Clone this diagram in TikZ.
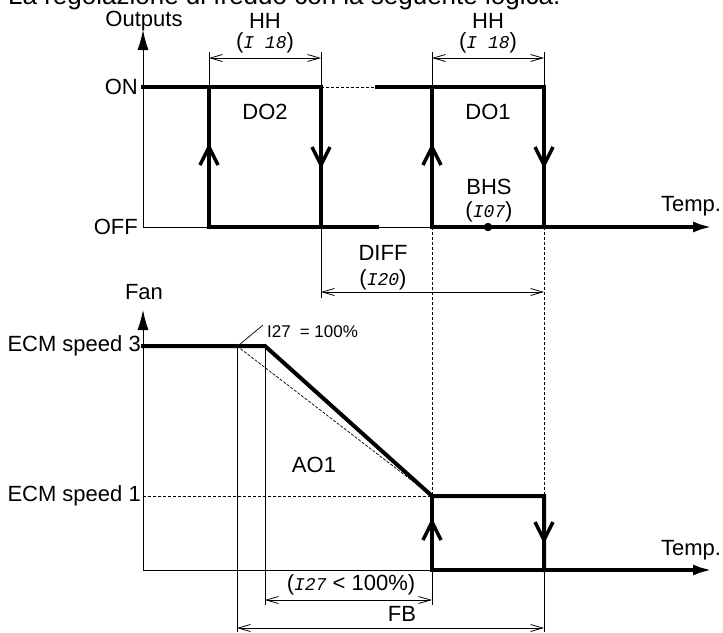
\documentclass[tikz,border=0pt]{standalone}
\usepackage{fontspec}
\setmainfont{Liberation Sans}
\newfontfamily\segfont{Liberation Mono}[ItalicFont={Liberation Mono Italic}]
\usetikzlibrary{arrows.meta}
\newcommand{\seg}[1]{{\segfont\itshape\fontsize{18}{20}\selectfont #1}}
\begin{document}
\begin{tikzpicture}[x=1pt,y=-1pt,
  lbl/.style={inner sep=0pt,font=\fontsize{22}{25}\selectfont},
  small/.style={inner sep=0pt,font=\fontsize{17}{20}\selectfont},
  thinline/.style={line width=0.9pt},
  thickline/.style={line width=4pt,line join=miter,line cap=rect},
  axisarrow/.style={-{Latex[length=20pt,width=11pt]}},
  dimline/.style={line width=0.8pt,{Straight Barb[length=12pt,width=7pt]}-{Straight Barb[length=12pt,width=7pt]}},
  dashline/.style={line width=0.8pt,dash pattern=on 3pt off 2pt},
  barb/.style={line width=3.5pt,line join=miter}]
\useasboundingbox (0,0) rectangle (723,632);
% header (cut at top)
\node[inner sep=0pt,font=\fontsize{26}{28}\selectfont,anchor=base west] (hdr) at (8,4) {La regolazione di freddo con la seguente logica.};
% ---------- top chart ----------
\coordinate (o1) at (143,227);
\coordinate (yt) at (143,30);
\coordinate (xt) at (713,227);
\draw[thinline,axisarrow] (o1) -- (yt);
\node[lbl] (outputs) at (144,21) {Outputs};
\node[lbl,anchor=east] (on) at (138,87) {ON};
\node[lbl,anchor=east] (off) at (138,227) {OFF};
\draw[thinline] (o1) -- (432,227);
% extension lines
\foreach \xx in {209,321,432,544} \draw[thinline] (\xx,52) -- (\xx,87);
\draw[dimline] (209,58) -- (321,58);
\draw[dimline] (432,58) -- (544,58);
\node[lbl] (hh1) at (265,21) {HH};
\node[lbl] (hh1p) at (265,43) {(\seg{I 18})};
\node[lbl] (hh2) at (488,21) {HH};
\node[lbl] (hh2p) at (488,43) {(\seg{I 18})};
% thick curves
\draw[thickline] (143,87) -- (321,87) -- (321,227);
\draw[thickline] (209,87) -- (209,227) -- (377,227);
\draw[thickline] (377,87) -- (544,87) -- (544,227);
\draw[thickline] (432,87) -- (432,227);
\draw[line width=4pt,axisarrow] (432,227) -- (xt);
\draw[dashline] (321,87) -- (377,87);
% arrowheads on verticals
\draw[barb] (200,165) -- (209,147) -- (218,165);
\draw[barb] (423,165) -- (432,147) -- (441,165);
\draw[barb] (312,147) -- (321,165) -- (330,147);
\draw[barb] (535,147) -- (544,165) -- (553,147);
\node[lbl] (do2) at (265,112) {DO2};
\node[lbl] (do1) at (488,112) {DO1};
\node[lbl] (bhs) at (489,187) {BHS};
\node[lbl] (bhsp) at (489,212) {(\seg{I07})};
\fill (488,227) circle (4.2pt);
\node[lbl,anchor=base] (temp1) at (691,211) {Temp.};
% DIFF
\draw[thinline] (321,227) -- (321,298);
\draw[dimline] (321,292) -- (544,292);
\node[lbl] (diff) at (383,253) {DIFF};
\node[lbl] (diffp) at (383,280) {(\seg{I20})};
\draw[dashline] (432,227) -- (432,496);
\draw[dashline] (544,227) -- (544,496);
% ---------- bottom chart ----------
\coordinate (o2) at (143,570);
\draw[thinline,axisarrow] (o2) -- (143,310);
\node[lbl] (fan) at (144,292) {Fan};
\node[lbl,anchor=east] (ecm3) at (141,346) {ECM speed 3};
\node[lbl,anchor=east] (ecm1) at (141,496) {ECM speed 1};
\draw[thinline] (o2) -- (432,570);
\draw[dashline] (143,496) -- (432,496);
\draw[line width=0.7pt,dash pattern=on 3pt off 1.5pt] (237,346) -- (432,496);
\draw[thinline] (237,346) -- (237,632);
\draw[thinline] (265,346) -- (265,605);
\draw[thinline] (432,570) -- (432,605);
\draw[thinline] (544,570) -- (544,632);
\draw[thickline] (143,346) -- (265,346) -- (432,496) -- (544,496) -- (544,570);
\draw[thickline] (432,496) -- (432,570);
\draw[line width=4pt,axisarrow] (432,570) -- (713,570);
\draw[barb] (423,540) -- (432,522) -- (441,540);
\draw[barb] (535,522) -- (544,540) -- (553,522);
\node[lbl,anchor=base] (temp2) at (691,555) {Temp.};
\node[lbl] (ao1) at (314,465) {AO1};
% I27 = 100% label
\draw[line width=0.7pt] (239,345) -- (263,325);
\node[small,anchor=west] (i27) at (267,332) {I27\hspace{9pt}= 100\%};
% dimension arrows
\draw[dimline] (265,600) -- (432,600);
\draw[dimline] (237,628) -- (544,628);
\node[lbl] (i27p) at (351,585) {(\seg{I27} < 100\%)};
\node[lbl] (fb) at (402,614) {FB};
\end{tikzpicture}
\end{document}
